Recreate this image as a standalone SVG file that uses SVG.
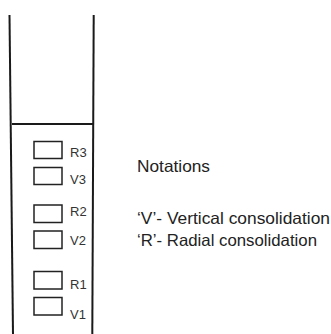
<svg xmlns="http://www.w3.org/2000/svg" width="331" height="334" viewBox="0 0 331 334">
<style>
.ln{stroke:#1a1a1a;stroke-width:2;fill:none}
.bx{stroke:#222;stroke-width:1.5;fill:#fff}
.lb{font-family:"Liberation Sans",Arial,sans-serif;font-size:13px;fill:#333}
.nt{font-family:"Liberation Sans",Arial,sans-serif;font-size:16.5px;fill:#222}
</style>
<rect width="331" height="334" fill="#fff"/>
<g id="frame">
<line class="ln" x1="9.5" y1="15" x2="13" y2="334"/>
<line class="ln" x1="93.7" y1="15" x2="92.3" y2="334"/>
<line class="ln" x1="12" y1="124" x2="93" y2="124"/>
</g>
<g id="R3"><rect class="bx" x="34" y="141.5" width="28" height="17"/><text class="lb" x="70" y="156.5">R3</text></g>
<g id="V3"><rect class="bx" x="34" y="167.5" width="28" height="17"/><text class="lb" x="70" y="184">V3</text></g>
<g id="R2"><rect class="bx" x="34" y="205" width="28" height="17.5"/><text class="lb" x="70" y="215.5">R2</text></g>
<g id="V2"><rect class="bx" x="34" y="231" width="28" height="17.5"/><text class="lb" x="70" y="245">V2</text></g>
<g id="R1"><rect class="bx" x="34" y="271.5" width="28" height="17.5"/><text class="lb" x="70" y="288.5">R1</text></g>
<g id="V1"><rect class="bx" x="34" y="297.5" width="28" height="17.5"/><text class="lb" x="70" y="319">V1</text></g>
<g id="notations">
<text class="nt" x="137" y="172" textLength="73" lengthAdjust="spacingAndGlyphs">Notations</text>
<text class="nt" x="137" y="224" textLength="193" lengthAdjust="spacingAndGlyphs">‘V’- Vertical consolidation</text>
<text class="nt" x="137" y="245.5" textLength="180" lengthAdjust="spacingAndGlyphs">‘R’- Radial consolidation</text>
</g>
</svg>
